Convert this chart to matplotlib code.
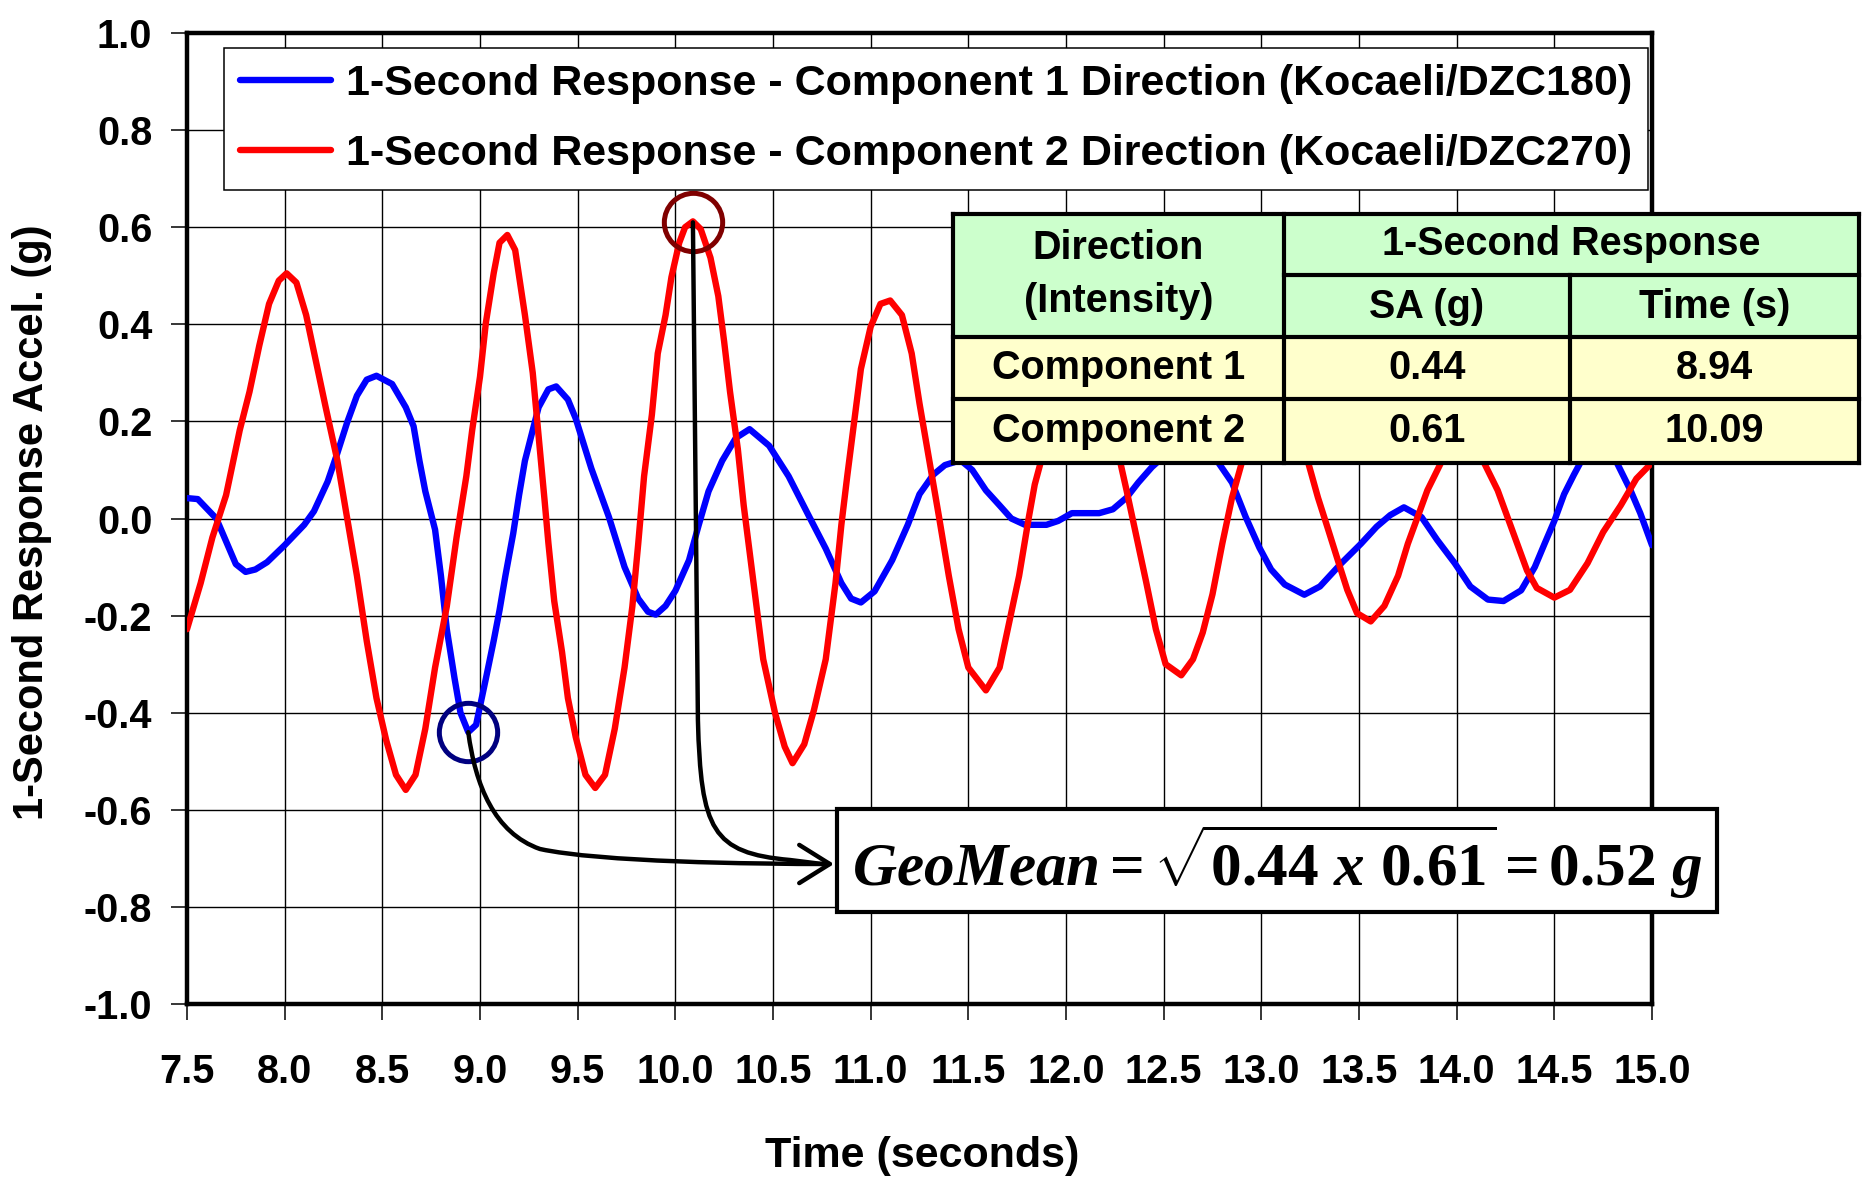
import numpy as np
import matplotlib
matplotlib.use("Agg")
import matplotlib.pyplot as plt
from matplotlib.patches import Rectangle, FancyArrowPatch
from matplotlib.path import Path
from matplotlib.lines import Line2D

# ---------------- data ----------------
comp1_time = [7.50, 7.555, 7.65, 7.70, 7.75, 7.80, 7.85, 7.91, 8.00, 8.10, 8.15, 8.22, 8.27, 8.32,
              8.37, 8.42, 8.47, 8.55, 8.62, 8.66, 8.69, 8.72, 8.77, 8.80, 8.83, 8.87, 8.90, 8.94,
              8.98, 9.03, 9.07, 9.10, 9.13, 9.17, 9.20, 9.23, 9.27, 9.30, 9.35, 9.39, 9.45, 9.49,
              9.57, 9.66, 9.74, 9.81, 9.86, 9.90, 9.95, 10.00, 10.07, 10.12, 10.17, 10.24, 10.31,
              10.38, 10.48, 10.58, 10.68, 10.77, 10.85, 10.90, 10.95, 11.02, 11.11, 11.19, 11.25,
              11.32, 11.38, 11.46, 11.52, 11.59, 11.66, 11.72, 11.79, 11.90, 11.96, 12.03, 12.17,
              12.24, 12.31, 12.37, 12.44, 12.52, 12.63, 12.74, 12.78, 12.85, 12.92, 12.99, 13.05,
              13.12, 13.22, 13.30, 13.41, 13.51, 13.59, 13.66, 13.73, 13.82, 13.90, 13.99, 14.07,
              14.16, 14.24, 14.33, 14.40, 14.45, 14.50, 14.55, 14.60, 14.66, 14.73, 14.82, 14.89,
              14.94, 15.00]
comp1_accel = [0.042, 0.040, 0.000, -0.047, -0.094, -0.110, -0.105, -0.090, -0.055, -0.013, 0.015,
               0.076, 0.135, 0.198, 0.253, 0.286, 0.294, 0.277, 0.229, 0.190, 0.119, 0.056, -0.023,
               -0.118, -0.228, -0.330, -0.400, -0.440, -0.425, -0.330, -0.252, -0.189, -0.118,
               -0.031, 0.048, 0.119, 0.182, 0.229, 0.266, 0.272, 0.245, 0.206, 0.103, 0.003,
               -0.100, -0.165, -0.192, -0.198, -0.180, -0.149, -0.086, -0.013, 0.056, 0.119,
               0.166, 0.184, 0.150, 0.087, 0.008, -0.062, -0.133, -0.165, -0.173, -0.150, -0.086,
               -0.013, 0.050, 0.090, 0.110, 0.120, 0.100, 0.058, 0.027, 0.000, -0.013, -0.013,
               -0.005, 0.011, 0.011, 0.019, 0.043, 0.074, 0.106, 0.135, 0.160, 0.135, 0.115,
               0.074, 0.003, -0.060, -0.105, -0.136, -0.157, -0.140, -0.092, -0.052, -0.017,
               0.007, 0.023, 0.003, -0.044, -0.092, -0.140, -0.167, -0.170, -0.148, -0.100,
               -0.052, -0.005, 0.050, 0.090, 0.135, 0.160, 0.115, 0.058, 0.011, -0.055]

comp2_time = [7.50, 7.57, 7.63, 7.70, 7.77, 7.82, 7.87, 7.92, 7.97, 8.01, 8.06, 8.11, 8.16, 8.21,
              8.27, 8.32, 8.37, 8.42, 8.47, 8.52, 8.57, 8.62, 8.67, 8.72, 8.77, 8.83, 8.88, 8.93,
              8.96, 9.00, 9.03, 9.07, 9.10, 9.14, 9.18, 9.23, 9.27, 9.30, 9.33, 9.35, 9.38, 9.42,
              9.45, 9.49, 9.54, 9.59, 9.64, 9.69, 9.74, 9.78, 9.81, 9.84, 9.88, 9.91, 9.95, 9.98,
              10.02, 10.05, 10.09, 10.13, 10.18, 10.22, 10.25, 10.28, 10.32, 10.35, 10.39, 10.42,
              10.45, 10.51, 10.56, 10.60, 10.66, 10.71, 10.77, 10.82, 10.85, 10.88, 10.92, 10.95,
              11.00, 11.05, 11.10, 11.16, 11.21, 11.25, 11.30, 11.35, 11.40, 11.45, 11.50, 11.59,
              11.66, 11.71, 11.76, 11.81, 11.84, 11.88, 11.95, 12.02, 12.08, 12.14, 12.21, 12.27,
              12.31, 12.36, 12.41, 12.46, 12.51, 12.59, 12.65, 12.70, 12.75, 12.80, 12.85, 12.90,
              12.97, 13.07, 13.17, 13.24, 13.29, 13.34, 13.39, 13.44, 13.49, 13.56, 13.63, 13.70,
              13.75, 13.80, 13.85, 13.92, 14.03, 14.14, 14.21, 14.26, 14.31, 14.36, 14.41, 14.50,
              14.58, 14.67, 14.75, 14.84, 14.92, 15.00]
comp2_accel = [-0.228, -0.133, -0.039, 0.048, 0.182, 0.261, 0.356, 0.442, 0.490, 0.505, 0.486,
               0.419, 0.324, 0.229, 0.119, 0.000, -0.118, -0.252, -0.370, -0.457, -0.528, -0.559,
               -0.528, -0.433, -0.307, -0.181, -0.039, 0.087, 0.182, 0.292, 0.403, 0.505, 0.568,
               0.584, 0.553, 0.419, 0.300, 0.170, 0.040, -0.050, -0.170, -0.275, -0.370, -0.450,
               -0.528, -0.555, -0.528, -0.433, -0.307, -0.181, -0.052, 0.087, 0.214, 0.340, 0.419,
               0.497, 0.568, 0.600, 0.612, 0.596, 0.537, 0.458, 0.364, 0.261, 0.143, 0.027,
               -0.100, -0.195, -0.290, -0.400, -0.470, -0.504, -0.465, -0.394, -0.290, -0.133,
               -0.013, 0.087, 0.214, 0.308, 0.395, 0.442, 0.449, 0.419, 0.340, 0.237, 0.120,
               0.003, -0.118, -0.228, -0.307, -0.354, -0.307, -0.212, -0.118, 0.003, 0.070,
               0.130, 0.280, 0.380, 0.410, 0.380, 0.280, 0.130, 0.058, -0.036, -0.130, -0.228,
               -0.300, -0.323, -0.290, -0.235, -0.156, -0.052, 0.043, 0.115, 0.240, 0.300,
               0.240, 0.115, 0.043, -0.020, -0.084, -0.147, -0.195, -0.212, -0.180, -0.118,
               -0.052, 0.003, 0.058, 0.115, 0.180, 0.115, 0.058, 0.003, -0.052, -0.107, -0.143,
               -0.163, -0.147, -0.092, -0.028, 0.027, 0.082, 0.115]

series_labels = ["1-Second Response - Component 1 Direction (Kocaeli/DZC180)",
                 "1-Second Response - Component 2 Direction (Kocaeli/DZC270)"]
x_ticks = [7.5, 8.0, 8.5, 9.0, 9.5, 10.0, 10.5, 11.0, 11.5, 12.0, 12.5, 13.0, 13.5, 14.0, 14.5, 15.0]
x_tick_labels = ["7.5", "8.0", "8.5", "9.0", "9.5", "10.0", "10.5", "11.0", "11.5", "12.0",
                 "12.5", "13.0", "13.5", "14.0", "14.5", "15.0"]
y_ticks = [1.0, 0.8, 0.6, 0.4, 0.2, 0.0, -0.2, -0.4, -0.6, -0.8, -1.0]
y_tick_labels = ["1.0", "0.8", "0.6", "0.4", "0.2", "0.0", "-0.2", "-0.4", "-0.6", "-0.8", "-1.0"]

table_rows = ["Component 1", "Component 2"]
table_sa = [0.44, 0.61]
table_time = [8.94, 10.09]
peak_sign = [-1, 1]

# ---------------- figure ----------------
W, H = 1872, 1204
plt.rcParams['font.family'] = ['Liberation Sans', 'DejaVu Sans']
plt.rcParams['font.weight'] = 'bold'
plt.rcParams['mathtext.fontset'] = 'custom'
plt.rcParams['mathtext.rm'] = 'Liberation Serif:bold'
plt.rcParams['mathtext.it'] = 'Liberation Serif:italic:bold'
plt.rcParams['mathtext.bf'] = 'Liberation Serif:bold'

fig = plt.figure(figsize=(W / 100, H / 100), dpi=100)
fig.patch.set_facecolor('white')
ax = fig.add_axes([187 / W, 1 - 1004 / H, (1652 - 187) / W, (1004 - 33) / H])


def F(x, y):
    """figure pixel (top-left origin) -> figure fraction"""
    return (x / W, 1 - y / H)


def D2P(t, v):
    d = ax.transData.transform((t, v))
    return (d[0], H - d[1])


l1, = ax.plot(comp1_time, comp1_accel, color='#0000FF', lw=4.6, solid_joinstyle='round',
              solid_capstyle='round', zorder=3)
l2, = ax.plot(comp2_time, comp2_accel, color='#FF0000', lw=4.6, solid_joinstyle='round',
              solid_capstyle='round', zorder=3)

ax.set_xlim(7.5, 15.0)
ax.set_ylim(-1.0, 1.0)
ax.set_xticks(x_ticks)
ax.set_xticklabels(x_tick_labels)
ax.set_yticks(y_ticks)
ax.set_yticklabels(y_tick_labels)
ax.tick_params(axis='both', direction='out', length=11.5, width=1.1, labelsize=28.5)
ax.tick_params(axis='x', pad=24)
ax.tick_params(axis='y', pad=13.5)
for lab in ax.get_xticklabels() + ax.get_yticklabels():
    lab.set_fontweight('bold')
ax.grid(True, color='black', lw=1.0)
ax.set_axisbelow(True)
for s in ax.spines.values():
    s.set_linewidth(3.2)
    s.set_color('black')

ax.set_xlabel('Time (seconds)', fontsize=31, fontweight='bold')
ax.xaxis.set_label_coords((922 - 187) / 1465, (1004 - 1156) / 971)
ax.xaxis.label.set_verticalalignment('center')
ax.set_ylabel('1-Second Response Accel. (g)', fontsize=30, fontweight='bold')
ax.yaxis.set_label_coords((32 - 187) / 1465, (1004 - 522) / 971)
ax.yaxis.label.set_verticalalignment('center')

leg = ax.legend([l1, l2], series_labels, loc='upper left', bbox_to_anchor=F(224, 48),
                bbox_transform=fig.transFigure, prop={'weight': 'bold', 'size': 31},
                frameon=True, fancybox=False, edgecolor='black', framealpha=1,
                borderpad=0.38, labelspacing=0.68, handlelength=2.1, handletextpad=0.35,
                borderaxespad=0)
leg.get_frame().set_linewidth(1.1)
leg.set_zorder(6)

# circles on the peaks
circle_colors = ['#000080', '#800000']
for t, sa, sg, c in zip(table_time, table_sa, peak_sign, circle_colors):
    ax.plot([t], [sg * sa], marker='o', ms=42, mfc='none', mec=c, mew=3.6, zorder=5)

# ---------------- arrows ----------------
box_l, box_t, box_r, box_b = 837, 809, 1717, 912
tip = (box_l - 3, 864)
p1 = D2P(table_time[0], -table_sa[0])
p2 = D2P(table_time[1], table_sa[1])

v1 = [p1, (p1[0] + 7, 785), (p1[0] + 26, 833), (540, 849), (600, 862), (750, 864), tip]
c1 = [Path.MOVETO, Path.CURVE4, Path.CURVE4, Path.CURVE4, Path.CURVE4, Path.CURVE4, Path.CURVE4]
arr1 = FancyArrowPatch(path=Path([F(*p) for p in v1], c1), arrowstyle='->,head_length=0.4,head_width=0.25',
                       mutation_scale=55, lw=3.2, color='black', transform=fig.transFigure, zorder=4)
fig.add_artist(arr1)

v2 = [p2, (p2[0] + 5, 720), (p2[0] + 8, 830), (p2[0] + 19, 853), (790, 860), (tip[0] - 12, 864)]
c2 = [Path.MOVETO, Path.LINETO, Path.CURVE4, Path.CURVE4, Path.CURVE4, Path.LINETO]
arr2 = FancyArrowPatch(path=Path([F(*p) for p in v2], c2), arrowstyle='-',
                       lw=3.2, color='black', transform=fig.transFigure, zorder=4)
fig.add_artist(arr2)

# ---------------- formula box ----------------
fig.add_artist(Rectangle(F(box_l, box_b), (box_r - box_l) / W, (box_b - box_t) / H,
                         transform=fig.transFigure, facecolor='white', edgecolor='black',
                         lw=3.0, zorder=5))
geo = np.sqrt(table_sa[0] * table_sa[1])
formula = (r"$GeoMean = \sqrt{%.2f\ x\ %.2f} = %.2f\ g$" % (table_sa[0], table_sa[1], geo))
fig.text(*F((box_l + box_r) / 2, 862), formula, fontsize=44, ha='center', va='center', zorder=6)

# ---------------- table ----------------
xs = [953, 1284, 1570, 1859]
ys = [214, 275, 337, 399, 463]
fig.add_artist(Rectangle(F(xs[0], ys[2]), (xs[3] - xs[0]) / W, (ys[2] - ys[0]) / H,
                         transform=fig.transFigure, facecolor='#CCFFCC', edgecolor='none', zorder=5))
fig.add_artist(Rectangle(F(xs[0], ys[4]), (xs[3] - xs[0]) / W, (ys[4] - ys[2]) / H,
                         transform=fig.transFigure, facecolor='#FFFFCC', edgecolor='none', zorder=5))


def hline(y, x0, x1):
    a, b = F(x0, y), F(x1, y)
    fig.add_artist(Line2D([a[0], b[0]], [a[1], b[1]], transform=fig.transFigure, color='black',
                          lw=3.0, solid_capstyle='projecting', zorder=6))


def vline(x, y0, y1):
    a, b = F(x, y0), F(x, y1)
    fig.add_artist(Line2D([a[0], b[0]], [a[1], b[1]], transform=fig.transFigure, color='black',
                          lw=3.0, solid_capstyle='projecting', zorder=6))


hline(ys[0], xs[0], xs[3])
hline(ys[1], xs[1], xs[3])
hline(ys[2], xs[0], xs[3])
hline(ys[3], xs[0], xs[3])
hline(ys[4], xs[0], xs[3])
vline(xs[0], ys[0], ys[4])
vline(xs[1], ys[0], ys[4])
vline(xs[2], ys[1], ys[4])
vline(xs[3], ys[0], ys[4])

tfs = 28.5
cx1 = (xs[0] + xs[1]) / 2
cx2 = (xs[1] + xs[2]) / 2
cx3 = (xs[2] + xs[3]) / 2
fig.text(*F(cx1, 248), "Direction", fontsize=tfs, ha='center', va='center', zorder=7)
fig.text(*F(cx1, 301), "(Intensity)", fontsize=tfs, ha='center', va='center', zorder=7)
fig.text(*F((xs[1] + xs[3]) / 2, 244), "1-Second Response", fontsize=tfs, ha='center', va='center', zorder=7)
fig.text(*F(cx2, 307), "SA (g)", fontsize=tfs, ha='center', va='center', zorder=7)
fig.text(*F(cx3, 307), "Time (s)", fontsize=tfs, ha='center', va='center', zorder=7)
for i, (name, sa, tt) in enumerate(zip(table_rows, table_sa, table_time)):
    yc = (ys[2 + i] + ys[3 + i]) / 2
    fig.text(*F(cx1, yc), name, fontsize=tfs, ha='center', va='center', zorder=7)
    fig.text(*F(cx2, yc), "%.2f" % sa, fontsize=tfs, ha='center', va='center', zorder=7)
    fig.text(*F(cx3, yc), "%.2f" % tt, fontsize=tfs, ha='center', va='center', zorder=7)

fig.savefig("out.png", dpi=100, facecolor='white')
